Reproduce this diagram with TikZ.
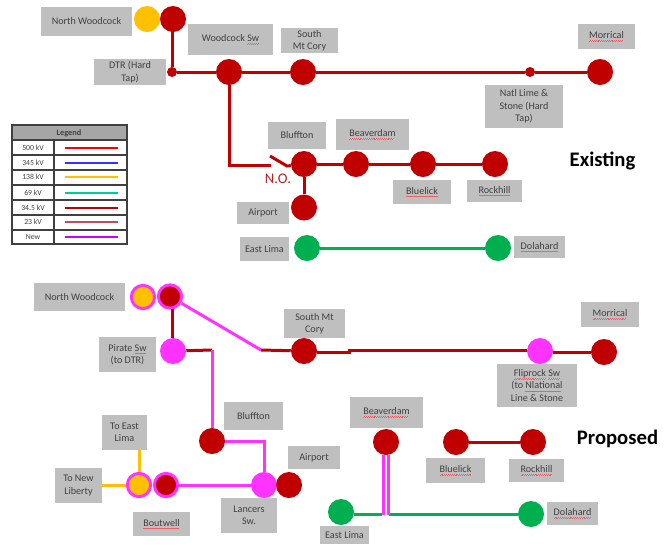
\documentclass[tikz,border=0pt]{standalone}
\usepackage{fontspec}
\setmainfont{Carlito}
\definecolor{lblgray}{HTML}{BFBFBF}
\definecolor{lbltext}{HTML}{404040}
\definecolor{busred}{HTML}{C00000}
\definecolor{busgreen}{HTML}{00B050}
\definecolor{busyellow}{HTML}{FFC000}
\definecolor{busmag}{HTML}{FF33FF}
\definecolor{sqred}{HTML}{E8606A}
\definecolor{legred}{HTML}{FF0000}
\definecolor{legblue}{HTML}{3333FF}
\definecolor{legteal}{HTML}{00CC99}
\definecolor{legbrown}{HTML}{C0504D}
\definecolor{legnew}{HTML}{CC00FF}
\newsavebox\sqbox
\newcommand\sq[1]{\sbox\sqbox{#1}\rlap{\usebox\sqbox}\hbox to \wd\sqbox{\color{sqred}\leaders\hbox{\rule[-2pt]{0.7pt}{0.35pt}\rule[-1.65pt]{0.7pt}{0.35pt}}\hfill}}
\newcommand\lab[6]{\node[lbl,minimum width={(#4-#2)*0.75pt},minimum height={(#5-#3)*0.75pt}] (#1) at ({(#2+#4)/2},{(#3+#5)/2}) {#6};}
\newcommand\legrow[4]{%
 \node[legtxt] (t#1) at (33,#2) {#3};
 \coordinate (a#1) at (65,#2); \coordinate (b#1) at (118,#2);
 \draw[line width=2.1pt,color=#4] (a#1) -- (b#1);}
\tikzset{
 x=0.75pt,y=-0.75pt,
 lbl/.style={fill=lblgray,text=lbltext,font=\fontsize{7.6}{9.2}\selectfont,align=center,inner sep=0pt},
 bus/.style={circle,fill=#1,minimum size=19.5pt,inner sep=0pt},
 ring/.style={circle,fill=#1,draw=busmag,line width=2.25pt,minimum size=17.5pt,inner sep=0pt},
 tap/.style={circle,fill=busred,minimum size=7.5pt,inner sep=0pt},
 wire/.style={line width=2.25pt,color=#1,line join=miter},
 legtxt/.style={font=\fontsize{5.8}{6.5}\selectfont,text=lbltext,inner sep=0pt},
 head/.style={font=\bfseries\fontsize{15.5}{17}\selectfont,text=black,inner sep=0pt},
}
\begin{document}
\begin{tikzpicture}
\useasboundingbox (0,0) rectangle (666,544);
% ---- legend
\fill[gray!70] (12,125) rectangle (127,140);
\draw[line width=0.9pt,color=black!75] (12,125) rectangle (127,244)
  (54,140) -- (54,244)
  (12,140) -- (127,140) (12,155) -- (127,155) (12,170) -- (127,170) (12,185) -- (127,185)
  (12,200) -- (127,200) (12,215) -- (127,215) (12,230) -- (127,230);
\node[legtxt,font=\bfseries\fontsize{6.2}{7}\selectfont] (leghead) at (69,133) {Legend};
\legrow{1}{148}{500 kV}{legred}
\legrow{2}{163}{345 kV}{legblue}
\legrow{3}{177}{138 kV}{busyellow}
\legrow{4}{193}{69 kV}{legteal}
\legrow{5}{208}{34.5 kV}{busred}
\legrow{6}{222}{23 kV}{legbrown}
\legrow{7}{237}{New}{legnew}
% ---- existing: labels
\lab{lnw}{41}{7}{132}{36}{North Woodcock}
\lab{lws}{188}{24}{273}{55}{Woodcock \sq{Sw}}
\lab{lsm}{281}{28}{338}{53}{South\\Mt Cory}
\lab{ldtr}{94}{59}{166}{85}{DTR (Hard\\Tap)}
\lab{lmo}{578}{24}{635}{49}{\sq{Morrical}}
\lab{lnl}{485}{85}{563}{128}{Natl Lime \&\\Stone (Hard\\Tap)}
\lab{lbl}{268}{122}{326}{149}{Bluffton}
\lab{lbe}{336}{119}{409}{150}{\sq{Beaverdam}}
\lab{lbk}{393}{180}{451}{204}{\sq{Bluelick}}
\lab{lro}{467}{180}{522}{202}{\sq{Rockhill}}
\lab{lai}{237}{202}{289}{224}{Airport}
\lab{lel}{240}{237}{289}{261}{East Lima}
\lab{ldo}{514}{236}{565}{258}{\sq{Dolahard}}
% ---- existing: stations
\node[bus=busyellow] (nw1) at (147,19) {};
\node[bus=busred] (nw2) at (173,19) {};
\node[tap] (dtr) at (172,72) {};
\node[bus=busred] (ws) at (229,72) {};
\node[bus=busred] (sm) at (303,72) {};
\node[tap] (nl) at (530,72) {};
\node[bus=busred] (mo) at (600,72) {};
\node[bus=busred] (bl) at (304,164) {};
\node[bus=busred] (be) at (356,164) {};
\node[bus=busred] (bk) at (423,164) {};
\node[bus=busred] (ro) at (495,164) {};
\node[bus=busred] (ai) at (304,207.5) {};
\node[bus=busgreen] (el) at (307,248) {};
\node[bus=busgreen] (do) at (498,248) {};
% ---- existing: wires
\draw[wire=busred] (dtr |- nw2) -- (dtr);
\draw[wire=busred] (dtr) -- (ws);
\draw[wire=busred] (ws) -- (sm);
\draw[wire=busred] (sm) -- (nl);
\draw[wire=busred] (nl) -- (mo);
\coordinate (swa) at (229,165);
\coordinate (swb) at (271,165);
\coordinate (swc) at (270,156);
\coordinate (swd) at (287,166);
\draw[wire=busred] (ws.south) -- (swa) -- (swb);
\draw[wire=busred] (swc) -- (swd) -- (bl);
\draw[wire=busred] (bl) -- (be);
\draw[wire=busred] (be) -- (bk);
\draw[wire=busred] (bk) -- (ro);
\draw[wire=busred] (bl) -- (ai);
\draw[wire=busgreen] (el) -- (do);
\node[text=red!65!black!85!white,font=\fontsize{11}{13}\selectfont,inner sep=0pt] (no) at (278,179) {N.O.};
\node[head] (existing) at (602.5,161) {Existing};
% ---- proposed: labels
\lab{pnw}{34}{283}{125}{311}{North Woodcock}
\lab{ppi}{99}{337}{156}{372}{Pirate \sq{Sw}\\(to DTR)}
\lab{psm}{284}{309}{345}{338}{South Mt\\Cory}
\lab{pmo}{581}{302}{639}{327}{\sq{Morrical}}
\lab{pfl}{497}{364}{577}{407}{\sq{Fliprock} \sq{Sw}\\(to \sq{Nlational}\\Line \& Stone}
\lab{pbl}{224}{402}{283}{430}{Bluffton}
\lab{pbe}{350}{397}{423}{428}{\sq{Beaverdam}}
\lab{pel2}{102}{415}{147}{450}{To East\\Lima}
\lab{pai}{288}{446}{340}{469}{Airport}
\lab{pbk}{426}{458}{485}{483}{\sq{Bluelick}}
\lab{pro}{509}{459}{564}{482}{\sq{Rockhill}}
\lab{pnl}{55}{468}{102}{503}{To New\\Liberty}
\lab{pla}{221}{498}{277}{533}{Lancers\\Sw.}
\lab{pbo}{133}{512}{190}{536}{\sq{Boutwell}}
\lab{pel}{320}{526}{369}{544}{East Lima}
\lab{pdo}{547}{502}{598}{525}{\sq{Dolahard}}
% ---- proposed: stations
\coordinate (pjoin) at (261,350);
\coordinate (pkink) at (212,350);
\coordinate (pblc) at (264,441);
\node[ring=busyellow] (pn1) at (143,297) {};
\node[ring=busred] (pn2) at (170,296.5) {};
\node[bus=busmag] (ppis) at (173,351) {};
\node[bus=busred] (psms) at (304,351) {};
\node[bus=busmag] (pfls) at (540,351) {};
\node[bus=busred] (pmos) at (604,352) {};
\node[bus=busred] (pbls) at (212,441) {};
\node[bus=busred] (pbes) at (386,442) {};
\node[bus=busred] (pbks) at (456,442) {};
\node[bus=busred] (pros) at (533,442) {};
\node[bus=busmag] (plas) at (264,485) {};
\node[bus=busred] (pais) at (289,485) {};
\node[ring=busyellow] (pb1) at (139,485) {};
\node[ring=busred] (pb2) at (166,485) {};
\node[bus=busgreen] (pels) at (341,512) {};
\node[bus=busgreen] (pdos) at (531,514) {};
% ---- proposed: wires
\draw[wire=busred] (ppis.north -| 172,0) -- (172,309);
\draw[wire=busred] (ppis) -- (pkink);
\draw[wire=busmag] (pkink) -- (pbls);
\draw[wire=busmag] (pn2) -- (pjoin);
\draw[wire=busred] (pjoin) -- (psms);
\coordinate (pm1) at (349,352);
\coordinate (pm2) at (349,350.5);
\draw[wire=busred] (psms.east |- pm1) -- (pm1) -- (pm2) -- (pfls.west |- pm2);
\draw[wire=busred] (pfls.east |- pmos) -- (pmos);
\draw[wire=busmag] (pbls) -- (pblc) -- (plas);
\draw[wire=busmag] (pb2) -- (plas);
\draw[wire=busred] (pbks) -- (pros);
\draw[wire=busyellow] (pel2.south -| pb1) -- (pb1);
\draw[wire=busyellow] (pnl.east |- pb1) -- (pb1);
\coordinate (pd1) at (383,455); \coordinate (pd2) at (383,515);
\coordinate (pd3) at (388.5,455); \coordinate (pd4) at (388.5,515);
\coordinate (pg1) at (382,514.5); \coordinate (pg2) at (388.5,514.5);
\draw[wire=busgreen,line width=1.9pt] (pels.east |- pg1) -- (pg1);
\draw[wire=busgreen,line width=1.9pt] (pg2) -- (pdos.west |- pg2);
\draw[wire=busmag] (pd1) -- (pd2);
\draw[wire=busmag] (pd3) -- (pd4);
\node[head] (proposed) at (617.5,439) {Proposed};
\end{tikzpicture}
\end{document}
